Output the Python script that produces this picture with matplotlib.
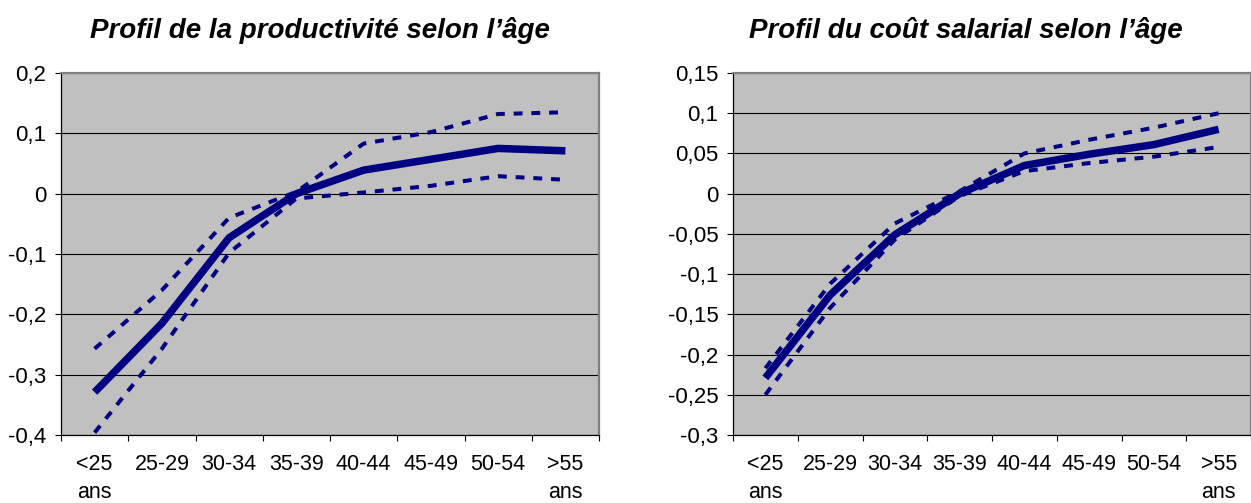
import matplotlib
matplotlib.use("Agg")
import matplotlib.pyplot as plt
from matplotlib.ticker import FixedLocator, FuncFormatter

plt.rcParams['font.family'] = ['Liberation Sans', 'DejaVu Sans']

categories = ["<25\nans", "25-29", "30-34", "35-39", "40-44", "45-49", "50-54", ">55\nans"]

prod_main = [-0.329, -0.215, -0.073, 0.000, 0.039, 0.057, 0.075, 0.071]
prod_upper = [-0.257, -0.160, -0.040, 0.003, 0.083, 0.102, 0.132, 0.135]
prod_lower = [-0.396, -0.257, -0.098, -0.008, 0.002, 0.013, 0.029, 0.023]

sal_main = [-0.229, -0.126, -0.051, 0.000, 0.035, 0.049, 0.061, 0.080]
sal_upper = [-0.217, -0.112, -0.037, 0.003, 0.050, 0.067, 0.082, 0.100]
sal_lower = [-0.250, -0.142, -0.057, -0.003, 0.028, 0.038, 0.046, 0.058]

prod_ticks = [-0.4, -0.3, -0.2, -0.1, 0.0, 0.1, 0.2]
sal_ticks = [-0.3, -0.25, -0.2, -0.15, -0.1, -0.05, 0.0, 0.05, 0.1, 0.15]

titles = ["Profil de la productivité selon l’âge", "Profil du coût salarial selon l’âge"]

NAVY = "#000080"
W, H = 1251, 503
fig = plt.figure(figsize=(W / 100, H / 100), dpi=100)

def fmt(v, pos):
    s = ("%.2f" % v).rstrip("0").rstrip(".")
    if s in ("-0", "0.", ""):
        s = "0"
    return s.replace(".", ",")

def make(ax_rect, main, upper, lower, ticks, title, title_x):
    ax = fig.add_axes(ax_rect)
    ax.set_facecolor("#C0C0C0")
    x = list(range(len(categories)))
    dash = (0, (2.2, 2.2))
    ax.plot(x, upper, color=NAVY, lw=2.9, ls=dash, dash_capstyle="butt")
    ax.plot(x, lower, color=NAVY, lw=2.9, ls=dash, dash_capstyle="butt")
    ax.plot(x, main, color=NAVY, lw=5.4, solid_capstyle="butt", solid_joinstyle="round")
    ax.set_xlim(-0.5, len(categories) - 0.5)
    ax.set_ylim(ticks[0], ticks[-1])
    ax.yaxis.set_major_locator(FixedLocator(ticks))
    ax.yaxis.set_major_formatter(FuncFormatter(fmt))
    ax.grid(axis="y", color="black", lw=0.8)
    ax.set_axisbelow(True)
    ax.set_xticks([i + 0.5 for i in range(-1, len(categories))])
    ax.set_xticklabels([])
    ax.set_xticks(x, minor=True)
    ax.set_xticklabels(categories, minor=True, fontsize=15.5, linespacing=1.4, va="top")
    ax.tick_params(axis="x", which="minor", length=0, pad=14)
    ax.tick_params(axis="x", which="major", length=4.5, width=0.8, direction="out")
    ax.tick_params(axis="y", length=4.5, width=0.8, direction="out", labelsize=16, pad=6)
    for s in ("left", "bottom"):
        ax.spines[s].set_color("black")
        ax.spines[s].set_linewidth(0.9)
    for s in ("top", "right"):
        ax.spines[s].set_color("#808080")
        ax.spines[s].set_linewidth(1.6)
    fig.text(title_x, 1 - 31 / H, title, ha="center", va="center",
             fontsize=20, fontweight="bold", fontstyle="italic")
    return ax

make([61 / W, (H - 435) / H, (599 - 61) / W, (435 - 73) / H],
     prod_main, prod_upper, prod_lower, prod_ticks, titles[0], 320 / W)
make([733 / W, (H - 435) / H, (1251 - 733) / W, (435 - 73) / H],
     sal_main, sal_upper, sal_lower, sal_ticks, titles[1], 966 / W)

fig.savefig("out.png", dpi=100)
